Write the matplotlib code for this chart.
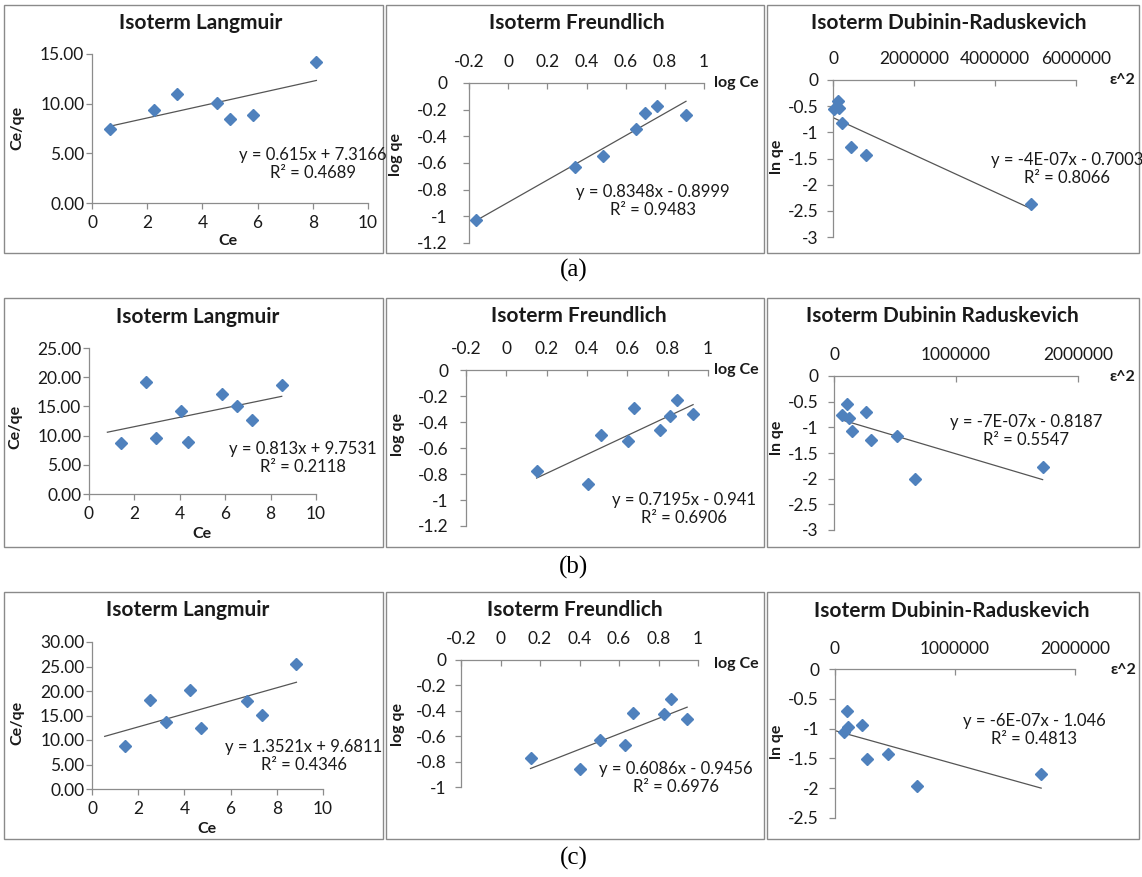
import matplotlib.pyplot as plt
import numpy as np
from matplotlib.patches import Rectangle
from matplotlib.ticker import FixedLocator, FuncFormatter

plt.rcParams['font.family'] = ['Lato', 'DejaVu Sans']
plt.rcParams['axes.unicode_minus'] = False

# ---- data ----
# row (a)
a_lang_x = [0.66, 2.23, 3.07, 4.52, 5.00, 5.82, 8.13]
a_lang_y = [7.45, 9.40, 11.00, 10.07, 8.49, 8.82, 14.20]
a_freu_x = [-0.165, 0.341, 0.486, 0.653, 0.699, 0.762, 0.908]
a_freu_y = [-1.03, -0.628, -0.548, -0.347, -0.226, -0.171, -0.241]
a_dr_x = [0.02e6, 0.12e6, 0.16e6, 0.21e6, 0.45e6, 0.82e6, 4.90e6]
a_dr_y = [-0.56, -0.40, -0.54, -0.82, -1.28, -1.44, -2.37]

# row (b)
b_lang_x = [1.43, 2.53, 2.97, 4.07, 4.34, 5.87, 6.53, 7.16, 8.49]
b_lang_y = [8.69, 19.2, 9.66, 14.2, 8.92, 17.16, 15.06, 12.6, 18.6]
b_freu_x = [0.150, 0.403, 0.469, 0.604, 0.634, 0.764, 0.811, 0.847, 0.926]
b_freu_y = [-0.776, -0.879, -0.501, -0.545, -0.296, -0.463, -0.352, -0.234, -0.337]
b_dr_x = [0.068e6, 0.107e6, 0.123e6, 0.150e6, 0.266e6, 0.300e6, 0.520e6, 0.668e6, 1.710e6]
b_dr_y = [-0.76, -0.55, -0.81, -1.07, -0.695, -1.24, -1.16, -2.0, -1.77]

# row (c)
c_lang_x = [1.44, 2.52, 3.21, 4.24, 4.72, 6.69, 7.34, 8.85]
c_lang_y = [8.76, 18.26, 13.65, 20.16, 12.49, 17.99, 15.07, 25.6]
c_freu_x = [0.152, 0.400, 0.502, 0.632, 0.671, 0.828, 0.865, 0.945]
c_freu_y = [-0.768, -0.861, -0.626, -0.671, -0.416, -0.426, -0.305, -0.461]
c_dr_x = [0.077e6, 0.097e6, 0.110e6, 0.227e6, 0.263e6, 0.440e6, 0.684e6, 1.718e6]
c_dr_y = [-1.05, -0.70, -0.97, -0.94, -1.51, -1.42, -1.955, -1.76]

# trendline x-extent (Excel forecast range)
trend_a = [[0.66, 8.13], [-0.165, 0.908], [0.02e6, 4.90e6]]
trend_b = [[0.81, 8.49], [0.150, 0.926], [0.068e6, 1.710e6]]
trend_c = [[0.55, 8.85], [0.152, 0.945], [0.0, 1.718e6]]

eq_a = ["y = 0.615x + 7.3166\nR² = 0.4689", "y = 0.8348x - 0.8999\nR² = 0.9483",
        "y = -4E-07x - 0.7003\nR² = 0.8066"]
eq_b = ["y = 0.813x + 9.7531\nR² = 0.2118", "y = 0.7195x - 0.941\nR² = 0.6906",
        "y = -7E-07x - 0.8187\nR² = 0.5547"]
eq_c = ["y = 1.3521x + 9.6811\nR² = 0.4346", "y = 0.6086x - 0.9456\nR² = 0.6976",
        "y = -6E-07x - 1.046\nR² = 0.4813"]

titles_a = ["Isoterm Langmuir", "Isoterm Freundlich", "Isoterm Dubinin-Raduskevich"]
titles_b = ["Isoterm Langmuir", "Isoterm Freundlich", "Isoterm Dubinin Raduskevich"]
titles_c = ["Isoterm Langmuir", "Isoterm Freundlich", "Isoterm Dubinin-Raduskevich"]

W, H = 1142, 877
fig = plt.figure(figsize=(W / 100, H / 100), dpi=100)

BLUE = '#4F81BD'
AX = '#8C8C8C'
TXT = '#1a1a1a'
TICK_FS = 12.5
TITLE_FS = 15
LAB_FS = 11.5
EQ_FS = 12


def fx(px):
    return px / W


def fy(py):
    return 1 - py / H


def add_ax(l, t, r, b):
    return fig.add_axes([fx(l), fy(b), (r - l) / W, (b - t) / H])


def scatter_trend(ax, xs, ys, rng):
    ax.plot(xs, ys, linestyle='none', marker='D', ms=6.5, color=BLUE, mec=BLUE, zorder=3, clip_on=False)
    k, c = np.polyfit(xs, ys, 1)
    xl = np.array(rng)
    ax.plot(xl, k * xl + c, color='#555555', lw=0.9, zorder=2)


def gfmt(v, p):
    v = round(v, 2)
    return '0' if abs(v) < 1e-9 else f'{v:g}'


def style_bottom(ax, xlim, ylim, xt, yt, yfmt):
    ax.set_xlim(*xlim)
    ax.set_ylim(*ylim)
    for s in ['top', 'right']:
        ax.spines[s].set_visible(False)
    for s in ['left', 'bottom']:
        ax.spines[s].set_color(AX)
        ax.spines[s].set_linewidth(0.9)
    ax.xaxis.set_major_locator(FixedLocator(xt))
    ax.yaxis.set_major_locator(FixedLocator(yt))
    ax.xaxis.set_major_formatter(FuncFormatter(gfmt))
    ax.yaxis.set_major_formatter(FuncFormatter(yfmt))
    ax.tick_params(axis='x', direction='out', length=4.5, width=0.9, color=AX, pad=4,
                   labelsize=TICK_FS, labelcolor=TXT)
    ax.tick_params(axis='y', direction='out', length=4.5, width=0.9, color=AX, pad=1,
                   labelsize=TICK_FS, labelcolor=TXT)
    ax.patch.set_alpha(0)


def style_top(ax, xlim, ylim, xt, yt, xfmt, ypad):
    ax.set_xlim(*xlim)
    ax.set_ylim(*ylim)
    for s in ['bottom', 'right']:
        ax.spines[s].set_visible(False)
    for s in ['left', 'top']:
        ax.spines[s].set_color(AX)
        ax.spines[s].set_linewidth(0.9)
    ax.xaxis.tick_top()
    ax.xaxis.set_major_locator(FixedLocator(xt))
    ax.yaxis.set_major_locator(FixedLocator(yt))
    ax.xaxis.set_major_formatter(FuncFormatter(xfmt))
    ax.yaxis.set_major_formatter(FuncFormatter(gfmt))
    ax.tick_params(axis='x', direction='in', length=4.5, width=0.9, color=AX, pad=9,
                   labelsize=TICK_FS, labelcolor=TXT)
    ax.tick_params(axis='y', direction='out', length=4.5, width=0.9, color=AX, pad=ypad,
                   labelsize=TICK_FS, labelcolor=TXT)
    ax.patch.set_alpha(0)


def txt(x, y, s, **kw):
    kw.setdefault('color', TXT)
    fig.text(fx(x), fy(y), s, ha='center', va='center', **kw)


def eq(x, y, s):
    fig.text(fx(x), fy(y), s, ha='center', va='center', fontsize=EQ_FS, color=TXT,
             linespacing=1.2)


fmt2 = lambda v, p: f'{v:.2f}'
fmt_int = lambda v, p: f'{v:.0f}'

# frames
rows = [(5, 253), (298, 547), (592, 839)]
cols = [(4, 383), (386, 764), (767, 1139)]
for (t, b) in rows:
    for (l, r) in cols:
        fig.patches.append(Rectangle((fx(l), fy(b)), (r - l) / W, (b - t) / H, transform=fig.transFigure,
                                     fill=False, edgecolor='#8a8a8a', lw=1.0))

lang_xt = np.arange(0, 11, 2)
freu_xt = np.round(np.arange(-0.2, 1.01, 0.2), 1)

# ---------- row (a) ----------
ax = add_ax(92, 54, 368, 203)
scatter_trend(ax, a_lang_x, a_lang_y, trend_a[0])
style_bottom(ax, (0, 10), (0, 15), lang_xt, np.arange(0, 16, 5), fmt2)
txt(201, 23, titles_a[0], fontsize=TITLE_FS, fontweight='bold')
txt(17, 128, "Ce/qe", fontsize=LAB_FS, fontweight='bold', rotation=90)
txt(228, 241, "Ce", fontsize=LAB_FS, fontweight='bold')
eq(313, 164, eq_a[0])

ax = add_ax(469, 83, 704, 243)
scatter_trend(ax, a_freu_x, a_freu_y, trend_a[1])
style_top(ax, (-0.2, 1), (-1.2, 0), freu_xt, np.round(np.arange(-1.2, 0.01, 0.2), 1), gfmt, 11)
txt(577, 23, titles_a[1], fontsize=TITLE_FS, fontweight='bold')
txt(396, 154, "log qe", fontsize=LAB_FS, fontweight='bold', rotation=90)
txt(736, 83, "log Ce", fontsize=LAB_FS, fontweight='bold')
eq(653, 201, eq_a[1])

ax = add_ax(833, 80, 1076, 237)
scatter_trend(ax, a_dr_x, a_dr_y, trend_a[2])
style_top(ax, (0, 6e6), (-3, 0), [0, 2e6, 4e6, 6e6], np.arange(-3, 0.01, 0.5), fmt_int, 6)
txt(949, 23, titles_a[2], fontsize=TITLE_FS, fontweight='bold')
txt(777, 157, "ln qe", fontsize=LAB_FS, fontweight='bold', rotation=90)
txt(1122, 80, "ε^2", fontsize=LAB_FS, fontweight='bold')
eq(1067, 169, eq_a[2])

# ---------- row (b) ----------
ax = add_ax(89, 348, 316, 494)
scatter_trend(ax, b_lang_x, b_lang_y, trend_b[0])
style_bottom(ax, (0, 10), (0, 25), lang_xt, np.arange(0, 26, 5), fmt2)
txt(198, 317, titles_b[0], fontsize=TITLE_FS, fontweight='bold')
txt(15, 427, "Ce/qe", fontsize=LAB_FS, fontweight='bold', rotation=90)
txt(202, 534, "Ce", fontsize=LAB_FS, fontweight='bold')
eq(303, 458, eq_b[0])

ax = add_ax(466, 370, 708, 526)
scatter_trend(ax, b_freu_x, b_freu_y, trend_b[1])
style_top(ax, (-0.2, 1), (-1.2, 0), freu_xt, np.round(np.arange(-1.2, 0.01, 0.2), 1), gfmt, 8)
txt(579, 316, titles_b[1], fontsize=TITLE_FS, fontweight='bold')
txt(398, 435, "log qe", fontsize=LAB_FS, fontweight='bold', rotation=90)
txt(736, 370, "log Ce", fontsize=LAB_FS, fontweight='bold')
eq(684, 509, eq_b[1])

ax = add_ax(834, 376, 1078, 530)
scatter_trend(ax, b_dr_x, b_dr_y, trend_b[2])
style_top(ax, (0, 2e6), (-3, 0), [0, 1e6, 2e6], np.arange(-3, 0.01, 0.5), fmt_int, 6.5)
txt(942, 316, titles_b[2], fontsize=TITLE_FS, fontweight='bold')
txt(777, 438, "ln qe", fontsize=LAB_FS, fontweight='bold', rotation=90)
txt(1122, 377, "ε^2", fontsize=LAB_FS, fontweight='bold')
eq(1026, 431, eq_b[2])

# ---------- row (c) ----------
ax = add_ax(92, 642, 323, 789)
scatter_trend(ax, c_lang_x, c_lang_y, trend_c[0])
style_bottom(ax, (0, 10), (0, 30), lang_xt, np.arange(0, 31, 5), fmt2)
txt(188, 610, titles_c[0], fontsize=TITLE_FS, fontweight='bold')
txt(17, 723, "Ce/qe", fontsize=LAB_FS, fontweight='bold', rotation=90)
txt(207, 829, "Ce", fontsize=LAB_FS, fontweight='bold')
eq(304, 756, eq_c[0])

ax = add_ax(461, 660, 698, 787)
scatter_trend(ax, c_freu_x, c_freu_y, trend_c[1])
style_top(ax, (-0.2, 1), (-1, 0), freu_xt, np.round(np.arange(-1, 0.01, 0.2), 1), gfmt, 6)
txt(575, 610, titles_c[1], fontsize=TITLE_FS, fontweight='bold')
txt(398, 725, "log qe", fontsize=LAB_FS, fontweight='bold', rotation=90)
txt(736, 664, "log Ce", fontsize=LAB_FS, fontweight='bold')
eq(676, 778, eq_c[1])

ax = add_ax(835, 669, 1075, 818)
scatter_trend(ax, c_dr_x, c_dr_y, trend_c[2])
style_top(ax, (0, 2e6), (-2.5, 0), [0, 1e6, 2e6], np.arange(-2.5, 0.01, 0.5), fmt_int, 7)
txt(952, 611, titles_c[2], fontsize=TITLE_FS, fontweight='bold')
txt(777, 742, "ln qe", fontsize=LAB_FS, fontweight='bold', rotation=90)
txt(1123, 670, "ε^2", fontsize=LAB_FS, fontweight='bold')
eq(1034, 730, eq_c[2])

# panel letters
for y, lab in [(270, "(a)"), (567, "(b)"), (858, "(c)")]:
    txt(574, y, lab, fontsize=18, family=['Liberation Serif', 'DejaVu Serif'], color='black')

fig.savefig('out.png', dpi=100, facecolor='white')
